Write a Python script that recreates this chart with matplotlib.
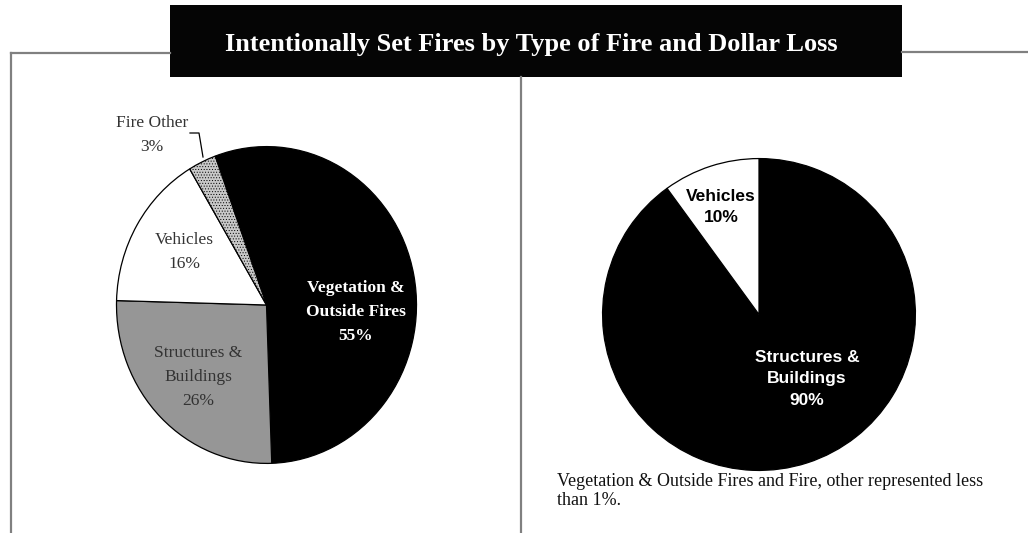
import matplotlib
matplotlib.use("Agg")
import matplotlib.pyplot as plt
from matplotlib.patches import Rectangle
from matplotlib.lines import Line2D

W, H = 1028, 533

# ---- data ----
title = "Intentionally Set Fires by Type of Fire and Dollar Loss"
left_labels = ["Vegetation &\nOutside Fires", "Structures &\nBuildings", "Vehicles", "Fire Other"]
left_values = [55, 26, 16, 3]
left_colors = ["#000000", "#969696", "#ffffff", "#c8c8c8"]
right_labels = ["Structures &\nBuildings", "Vehicles"]
right_values = [90, 10]
right_colors = ["#000000", "#ffffff"]
footnote = "Vegetation & Outside Fires and Fire, other represented less\nthan 1%."

SERIF = ["Liberation Serif", "DejaVu Serif"]
SANS = ["Liberation Sans", "DejaVu Sans"]
plt.rcParams["hatch.linewidth"] = 0.4

fig = plt.figure(figsize=(W / 100, H / 100), dpi=100)
fig.patch.set_facecolor("white")


def fx(x):
    return x / W


def fy(y):
    return 1 - y / H


def axes_px(x0, y0, x1, y1):
    return fig.add_axes([fx(x0), fy(y1), (x1 - x0) / W, (y1 - y0) / H])


# ---- frame lines ----
gray = "#808080"
for xs, ys in [((11, 11), (53, 533)), ((11, 170), (53, 53)),
               ((521, 521), (77, 533)), ((902, 1028), (52, 52))]:
    fig.add_artist(Line2D([fx(x) for x in xs], [fy(y) for y in ys],
                          color=gray, lw=1.6, transform=fig.transFigure))

# ---- title box ----
fig.add_artist(Rectangle((fx(170), fy(77)), (902 - 170) / W, (77 - 5) / H,
                         facecolor="#050505", edgecolor="none", transform=fig.transFigure))
fig.text(fx(531), fy(45), title, color="white", fontsize=19, fontweight="bold",
         family=SERIF, ha="center", va="center")

# ---- left pie ----
axL = axes_px(115, 145, 418, 465)
wedgesL, _ = axL.pie(left_values, colors=left_colors, startangle=110, counterclock=False,
                     wedgeprops=dict(edgecolor="black", linewidth=0.9))
wedgesL[3].set_hatch("......")
axL.set_aspect("auto")
axL.set_xlim(-1.01, 1.01)
axL.set_ylim(-1.01, 1.01)
axL.axis("off")

def ltxt(x, y, s, **kw):
    fig.text(fx(x), fy(y), s, ha="center", va="center", family=SERIF,
             fontsize=12.5, linespacing=1.65, **kw)

ltxt(356, 312, f"{left_labels[0]}\n{left_values[0]}%", color="white", fontweight="bold")
ltxt(198, 377, f"{left_labels[1]}\n{left_values[1]}%", color="#333333")
ltxt(184, 252, f"{left_labels[2]}\n{left_values[2]}%", color="#333333")
ltxt(152, 135, f"{left_labels[3]}\n{left_values[3]}%", color="#333333")
fig.add_artist(Line2D([fx(190), fx(199), fx(203)], [fy(133), fy(133), fy(157)],
                      color="black", lw=0.9, transform=fig.transFigure))

# ---- right pie ----
axR = axes_px(601, 157, 917, 472)
wedgesR, _ = axR.pie(right_values, colors=right_colors, startangle=90, counterclock=False,
                     wedgeprops=dict(edgecolor="black", linewidth=0.9))
axR.set_aspect("auto")
axR.set_xlim(-1.01, 1.01)
axR.set_ylim(-1.01, 1.01)
axR.axis("off")

def rtxt(x, y, s, **kw):
    fig.text(fx(x), fy(y), s, ha="center", va="center", family=SANS,
             fontsize=12.5, fontweight="bold", linespacing=1.55, **kw)

rtxt(807, 379, f"{right_labels[0]}\n{right_values[0]}%", color="white")
rtxt(721, 207, f"{right_labels[1]}\n{right_values[1]}%", color="black")

# ---- footnote ----
fig.text(fx(557), fy(491), footnote, ha="left", va="center", family=SERIF,
         fontsize=13, color="#111111", linespacing=1.2)

fig.savefig("out.png", dpi=100)
